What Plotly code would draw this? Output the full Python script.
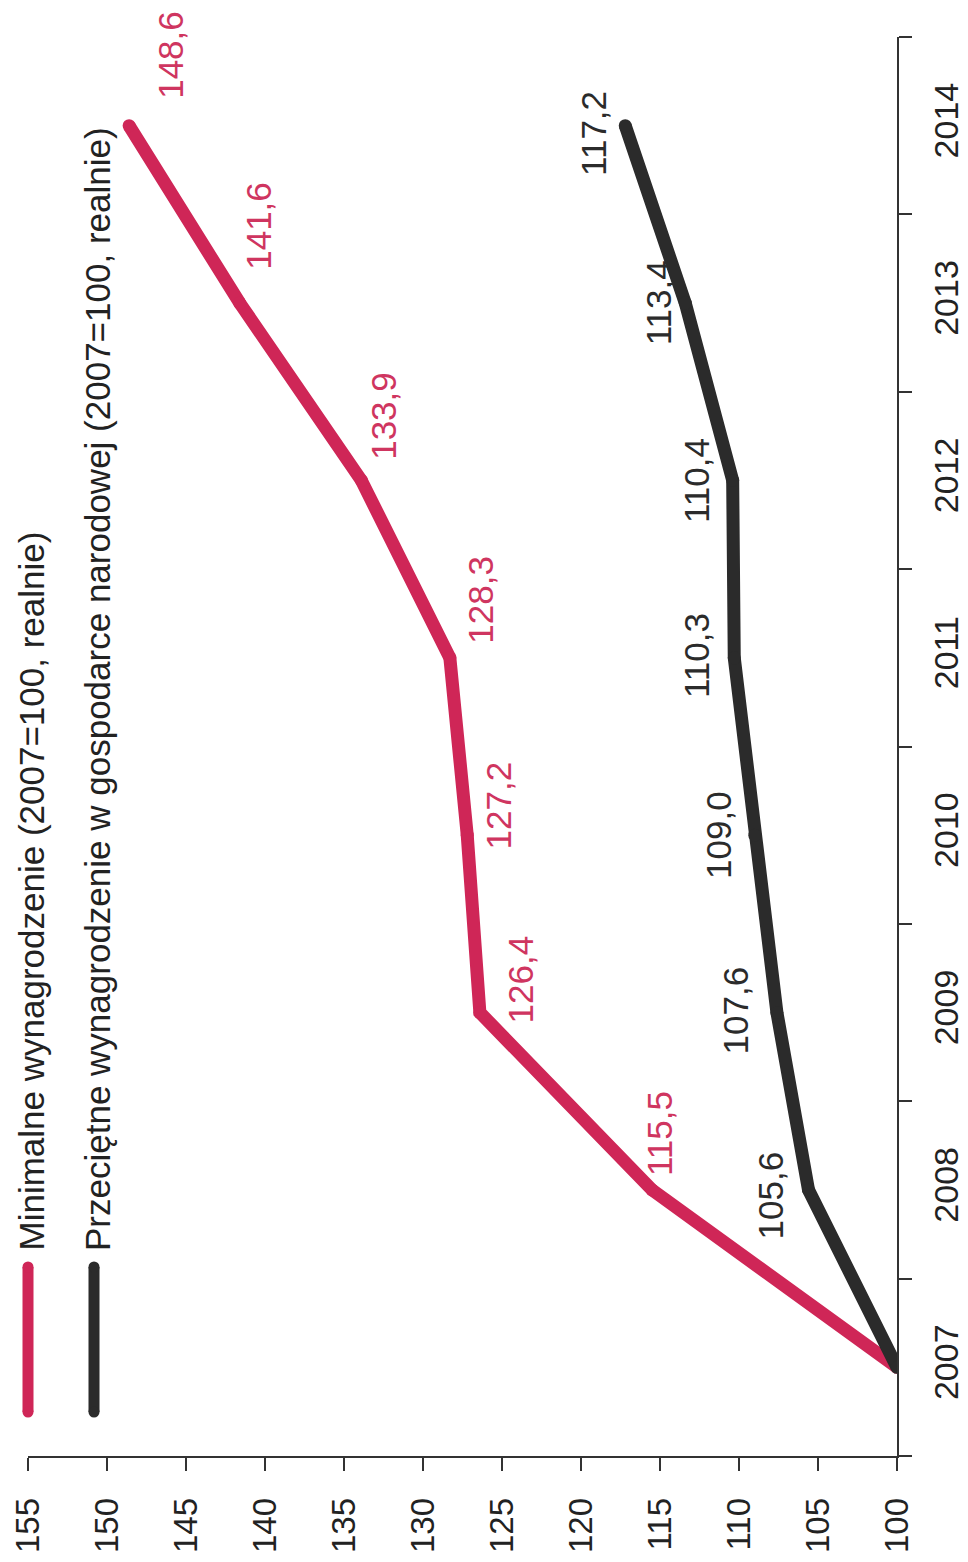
"""Minimalne vs przeciętne wynagrodzenie 2007-2014, chart drawn rotated 90 degrees."""
import plotly.graph_objects as go

FONT = "Liberation Sans, Arial, sans-serif"
RED = "#cf2657"
RED_TEXT = "#cf3560"
DARK = "#2b2b2b"
AXIS = "#333333"

W, H = 968, 1562
PAGE_PAD = 8  # default body margin of the html page
MARGIN = dict(l=20, r=79, t=29, b=114, autoexpand=False)

YEARS = ["2007", "2008", "2009", "2010", "2011", "2012", "2013", "2014"]
MINIMAL = [100.0, 115.5, 126.4, 127.2, 128.3, 133.9, 141.6, 148.6]
AVERAGE = [100.0, 105.6, 107.6, 109.0, 110.3, 110.4, 113.4, 117.2]
VALUE_TICKS = list(range(100, 160, 5))

NAME_MIN = "Minimalne wynagrodzenie (2007=100, realnie)"
NAME_AVG = "Przeciętne wynagrodzenie w gospodarce narodowej (2007=100, realnie)"

# pixel nudges of the value labels (x right, y up), as placed in the original
MIN_LABEL_SHIFT = [None, (8, 56), (41, 33), (31, 30), (31, 58), (22, 65), (18, 77), (42, 71)]
AVG_LABEL_SHIFT = [None, (-38, -6), (-41, 2), (-37, 0), (-37, 2), (-36, 0), (-27, 0), (-32, -8)]


def px_x(px):
    """page pixel -> paper x"""
    return (px - PAGE_PAD - MARGIN["l"]) / (W - MARGIN["l"] - MARGIN["r"])


def px_y(py):
    """page pixel (from top) -> paper y"""
    return (H + PAGE_PAD - MARGIN["b"] - py) / (H - MARGIN["t"] - MARGIN["b"])


def fmt(v):
    return f"{v:.1f}".replace(".", ",")


fig = go.Figure()
for vals, color in [(MINIMAL, RED), (AVERAGE, DARK)]:
    fig.add_trace(go.Scatter(
        x=vals, y=YEARS, mode="lines+markers",
        line=dict(color=color, width=13),
        marker=dict(color=color, size=13, line=dict(width=0)),
        showlegend=False, hoverinfo="skip",
    ))

# rotated data labels (y given as category index, 2007 point left unlabelled)
for vals, color, shifts in [
    (MINIMAL, RED_TEXT, MIN_LABEL_SHIFT),
    (AVERAGE, DARK, AVG_LABEL_SHIFT),
]:
    for i, v in enumerate(vals):
        if shifts[i] is None:
            continue
        dx, dy = shifts[i]
        fig.add_annotation(
            x=v, y=i, xref="x", yref="y", text=fmt(v), showarrow=False,
            textangle=-90, xshift=dx, yshift=dy,
            font=dict(family=FONT, size=35, color=color),
        )

# hand-drawn legend (rotated like the rest)
for cx, color, tx, name in [(28, RED, 31, NAME_MIN), (94, DARK, 97, NAME_AVG)]:
    fig.add_shape(type="line", xref="paper", yref="paper",
                  x0=px_x(cx), x1=px_x(cx), y0=px_y(1412), y1=px_y(1267),
                  line=dict(color=color, width=11))
    for py in (1412, 1267):
        fig.add_shape(type="circle", xref="paper", yref="paper",
                      xsizemode="pixel", ysizemode="pixel",
                      xanchor=px_x(cx), yanchor=px_y(py),
                      x0=-5.5, x1=5.5, y0=-5.5, y1=5.5,
                      fillcolor=color, line=dict(width=0))
    fig.add_annotation(
        x=px_x(tx), y=px_y(1253), xref="paper", yref="paper",
        xanchor="center", yanchor="bottom", text=name, showarrow=False,
        textangle=-90, font=dict(family=FONT, size=35, color="#222222"),
    )

fig.update_layout(
    width=W, height=H, margin=MARGIN,
    paper_bgcolor="white", plot_bgcolor="white",
    font=dict(family=FONT, color="#222222"),
    xaxis=dict(
        range=[155, 100], tickvals=VALUE_TICKS, tickangle=-90,
        ticks="outside", ticklen=13, tickwidth=1.5, tickcolor=AXIS,
        showline=True, linecolor=AXIS, linewidth=1.5,
        showgrid=False, zeroline=False, ticklabelstandoff=14,
        tickfont=dict(size=33, color="#222222"),
    ),
    yaxis=dict(
        type="category", categoryorder="array", categoryarray=YEARS,
        range=[-0.5, len(YEARS) - 0.5], side="right", tickson="boundaries",
        ticks="outside", ticklen=13, tickwidth=1.5, tickcolor=AXIS,
        showline=True, linecolor=AXIS, linewidth=1.5,
        showgrid=False, zeroline=False, tickangle=-90, ticklabelstandoff=18,
        tickfont=dict(size=34, color="#222222"),
    ),
)

fig.write_html("out.html")
